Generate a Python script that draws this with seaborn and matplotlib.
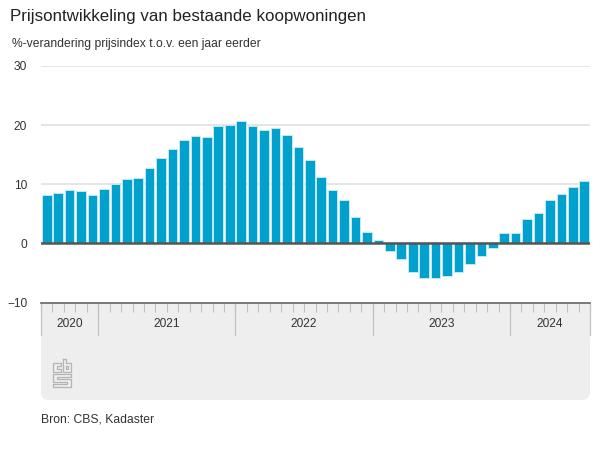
#!/usr/bin/env python3
import matplotlib
matplotlib.use('Agg')
import matplotlib.pyplot as plt
from matplotlib.lines import Line2D
from matplotlib.patches import FancyBboxPatch, Rectangle
from matplotlib.transforms import IdentityTransform
import pandas as pd
import seaborn as sns

months = ['2020-%02d' % m for m in range(8, 13)] \
    + ['%d-%02d' % (y, m) for y in (2021, 2022, 2023) for m in range(1, 13)] \
    + ['2024-%02d' % m for m in range(1, 8)]
values = [8.2, 8.5, 9.0, 8.85, 8.2, 9.2, 10.0, 10.9, 11.1,
          12.8, 14.5, 16.0, 17.5, 18.2, 18.0, 19.8, 20.0, 20.7, 19.8, 19.2, 19.5,
          18.3, 16.3, 14.1, 11.3, 9.0, 7.3, 4.4, 2.0, 0.5,
          -1.35, -2.7, -4.9, -5.9, -5.9, -5.6, -4.9, -3.5, -2.2, -0.8,
          1.7, 1.7, 4.05, 5.2, 7.3, 8.4, 9.5, 10.5]
years = ['2020', '2021', '2022', '2023', '2024']
months_per_year = [5, 12, 12, 12, 7]
y_ticks = [-10, 0, 10, 20, 30]

title = 'Prijsontwikkeling van bestaande koopwoningen'
subtitle = '%-verandering prijsindex t.o.v. een jaar eerder'
source = 'Bron: CBS, Kadaster'

W, H = 600, 450
plt.rcParams['font.family'] = ['Liberation Sans', 'DejaVu Sans']

df = pd.DataFrame({'maand': months, 'waarde': values})

fig = plt.figure(figsize=(W / 100, H / 100), dpi=100)
ax = fig.add_axes([41 / W, 1 - 302.5 / H, 549 / W, 236.5 / H])
ax.set_zorder(2)
ax.patch.set_alpha(0)


def px(x, y):
    return x / W, 1 - y / H


# grey panel below the chart, drawn in pixels
to_px = IdentityTransform()
fig.add_artist(FancyBboxPatch((49, H - 392), 533, 80, boxstyle='round,pad=8', transform=to_px,
                              fc='#eeeeee', ec='none', zorder=0))
fig.add_artist(Rectangle((41, H - 340), 549, 37.5, transform=to_px,
                         fc='#eeeeee', ec='none', zorder=0))

# cbs logo outline
logo = [
    [(61, 363), (53, 363), (53, 372), (61, 372), (61, 369), (56.5, 369), (56.5, 366), (61, 366), (61, 363)],
    [(62.5, 359), (62.5, 372), (71, 372), (71, 363), (65.5, 363), (65.5, 359), (62.5, 359)],
    [(65.5, 366), (68, 366), (68, 369), (65.5, 369), (65.5, 366)],
    [(53, 373.5), (71, 373.5), (71, 377), (57, 377), (57, 378.5), (71, 378.5), (71, 387), (53, 387),
     (53, 383.5), (67, 383.5), (67, 382), (53, 382), (53, 373.5)],
]
for part in logo:
    fig.add_artist(Line2D([p[0] for p in part], [H - p[1] for p in part], transform=to_px,
                          color='#b4b4b4', lw=0.9, zorder=1))

sns.barplot(data=df, x='maand', y='waarde', color='#00a1cd', saturation=1, width=0.84,
            edgecolor='#c4e8f3', linewidth=0.7, ax=ax, zorder=3)

ax.set_xlim(-0.5, len(months) - 0.5)
ax.set_ylim(-10, 30)
ax.set_xlabel('')
ax.set_ylabel('')
ax.set_yticks(y_ticks)
ax.tick_params(axis='y', length=0, pad=10, labelsize=8.6, labelcolor='#333333')
ax.grid(axis='y', color='#e0e0e0', lw=1.2, zorder=0)
ax.set_axisbelow(True)
for s in ('top', 'left', 'right'):
    ax.spines[s].set_visible(False)
ax.spines['bottom'].set_color('#666666')
ax.spines['bottom'].set_linewidth(1.2)
ax.axhline(0, color='#555555', lw=1.8, zorder=4)

# month ticks, year separators and year labels
ax.set_xticks([i - 0.5 for i in range(len(months) + 1)])
ax.set_xticklabels([])
ax.tick_params(axis='x', length=6.8, width=0.8, color='#c0c0c0')
start = 0
seps = [0]
for year, n in zip(years, months_per_year):
    ax.annotate(year, xy=(start - 0.5 + n / 2, 0), xycoords=ax.get_xaxis_transform(),
                xytext=(0, -21.5), textcoords='offset pixels', ha='center', va='center',
                fontsize=8.6, color='#333333')
    start += n
    seps.append(start)
for s in seps:
    ax.plot([s - 0.5, s - 0.5], [0, -32.5 / 236.5], transform=ax.get_xaxis_transform(),
            color='#c0c0c0', lw=0.9, clip_on=False, zorder=2)

fig.text(*px(10, 17), title, fontsize=12.2, color='#222222', va='center')
fig.text(*px(12, 44), subtitle, fontsize=8.7, color='#333333', va='center')
fig.text(*px(41, 420), source, fontsize=8.7, color='#333333', va='center')

fig.savefig('out.png', dpi=100)
